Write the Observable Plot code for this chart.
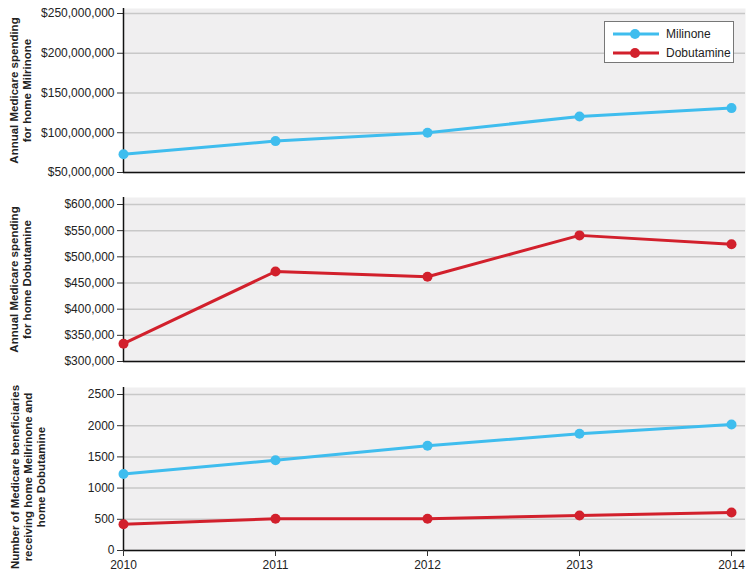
<!DOCTYPE html>
<html>
<head>
<meta charset="utf-8">
<script src="https://cdn.jsdelivr.net/npm/d3@7"></script>
<script src="https://cdn.jsdelivr.net/npm/@observablehq/plot@0.6"></script>
<style>
  body { margin: 0; background: #fff; }
  #chart { position: relative; width: 754px; height: 579px; font-family: "Liberation Sans", Arial, Helvetica, sans-serif; }
  #chart svg { display: block; }
  .legend { position: absolute; left: 604px; top: 21px; width: 128px; height: 40px; border: 1px solid #777; background: #fff; font-size: 12px; color: #222; }
  .legend .row { position: absolute; left: 8px; height: 16px; display: flex; align-items: center; }
  .legend .row span { margin-left: 7px; }
</style>
</head>
<body>
<div id="chart"></div>
<script>
const years = [2010, 2011, 2012, 2013, 2014];
const seriesNames = ["Milinone", "Dobutamine"];
const seriesColors = ["#3fbdee", "#d2202c"];
const milrinoneSpending = [73000000, 89500000, 100000000, 120500000, 131000000];
const dobutamineSpending = [334000, 472000, 462000, 541000, 524000];
const milrinoneBeneficiaries = [1225, 1447, 1680, 1870, 2020];
const dobutamineBeneficiaries = [420, 510, 508, 560, 608];
const spendingTicksTop = [50000000, 100000000, 150000000, 200000000, 250000000];
const spendingTicksMid = [300000, 350000, 400000, 450000, 500000, 550000, 600000];
const beneficiaryTicks = [0, 500, 1000, 1500, 2000, 2500];
const yLabels = [
  "Annual Medicare spending\nfor home Milrinone",
  "Annual Medicare spending\nfor home Dobutamine",
  "Number of Medicare beneficiaries\nreceiving home Meilrinone and\nhome Dobutamine"
];

const font = "Liberation Sans, Arial, Helvetica, sans-serif";
const rows = (vals) => years.map((year, i) => ({year, value: vals[i]}));

function panel({series, ticks, tickFormat, height, marginTop, marginBottom, insetTop, label, labelDx, labelDy, showX}) {
  const marks = [
    Plot.frame({fill: "#f0eff0"}),
    Plot.gridY(ticks, {stroke: "#c8c8c8", strokeOpacity: 1, strokeWidth: 1.5}),
    Plot.axisY(ticks, {tickFormat, tickSize: 6, tickPadding: 3, fontSize: 12, label: null, stroke: "#333", fill: "#222"}),
    Plot.ruleX([years[0]], {stroke: "#111", strokeWidth: 1.5}),
    Plot.ruleY([ticks[0]], {stroke: "#111", strokeWidth: 1.5}),
    Plot.text([label], {text: d => d, frameAnchor: "left", rotate: -90, dx: labelDx, dy: labelDy, textAnchor: "middle", lineAnchor: "middle", fontSize: 11.5, fontWeight: "bold", fill: "#222", lineHeight: 1.15})
  ];
  for (const s of series) {
    marks.push(Plot.line(rows(s.values), {x: "year", y: "value", stroke: s.color, strokeWidth: 3}));
    marks.push(Plot.dot(rows(s.values), {x: "year", y: "value", fill: s.color, r: 5}));
  }
  if (showX) {
    marks.push(Plot.axisX(years, {tickFormat: "d", tickSize: 6, tickPadding: 4, fontSize: 12, label: null, stroke: "#333", fill: "#222"}));
  }
  return Plot.plot({
    width: 754,
    height,
    marginLeft: 123,
    marginRight: 9,
    marginTop,
    marginBottom,
    style: {fontFamily: font, background: "transparent"},
    x: {domain: [years[0], years[years.length - 1]], insetRight: 14, axis: null},
    y: {domain: [ticks[0], ticks[ticks.length - 1]], insetTop, axis: null},
    marks
  });
}

const chart = document.getElementById("chart");
chart.append(panel({
  series: [{values: milrinoneSpending, color: seriesColors[0]}],
  ticks: spendingTicksTop, tickFormat: d3.format("$,"),
  height: 185, marginTop: 8, marginBottom: 13, insetTop: 5,
  label: yLabels[0], labelDx: -103, labelDy: 0, showX: false
}));
chart.append(panel({
  series: [{values: dobutamineSpending, color: seriesColors[1]}],
  ticks: spendingTicksMid, tickFormat: d3.format("$,"),
  height: 190, marginTop: 12, marginBottom: 14, insetTop: 7,
  label: yLabels[1], labelDx: -103, labelDy: 0, showX: false
}));
chart.append(panel({
  series: [{values: milrinoneBeneficiaries, color: seriesColors[0]}, {values: dobutamineBeneficiaries, color: seriesColors[1]}],
  ticks: beneficiaryTicks, tickFormat: d => String(d),
  height: 204, marginTop: 12, marginBottom: 29, insetTop: 7,
  label: yLabels[2], labelDx: -96, labelDy: 8, showX: true
}));

// Legend
const legend = document.createElement("div");
legend.className = "legend";
seriesNames.forEach((name, i) => {
  const row = document.createElement("div");
  row.className = "row";
  row.style.top = (4 + i * 19) + "px";
  row.innerHTML = `<svg width="46" height="12"><line x1="0" x2="46" y1="6" y2="6" stroke="${seriesColors[i]}" stroke-width="3"/><circle cx="22" cy="6" r="5" fill="${seriesColors[i]}"/></svg><span>${name}</span>`;
  legend.append(row);
});
chart.append(legend);
</script>
</body>
</html>
